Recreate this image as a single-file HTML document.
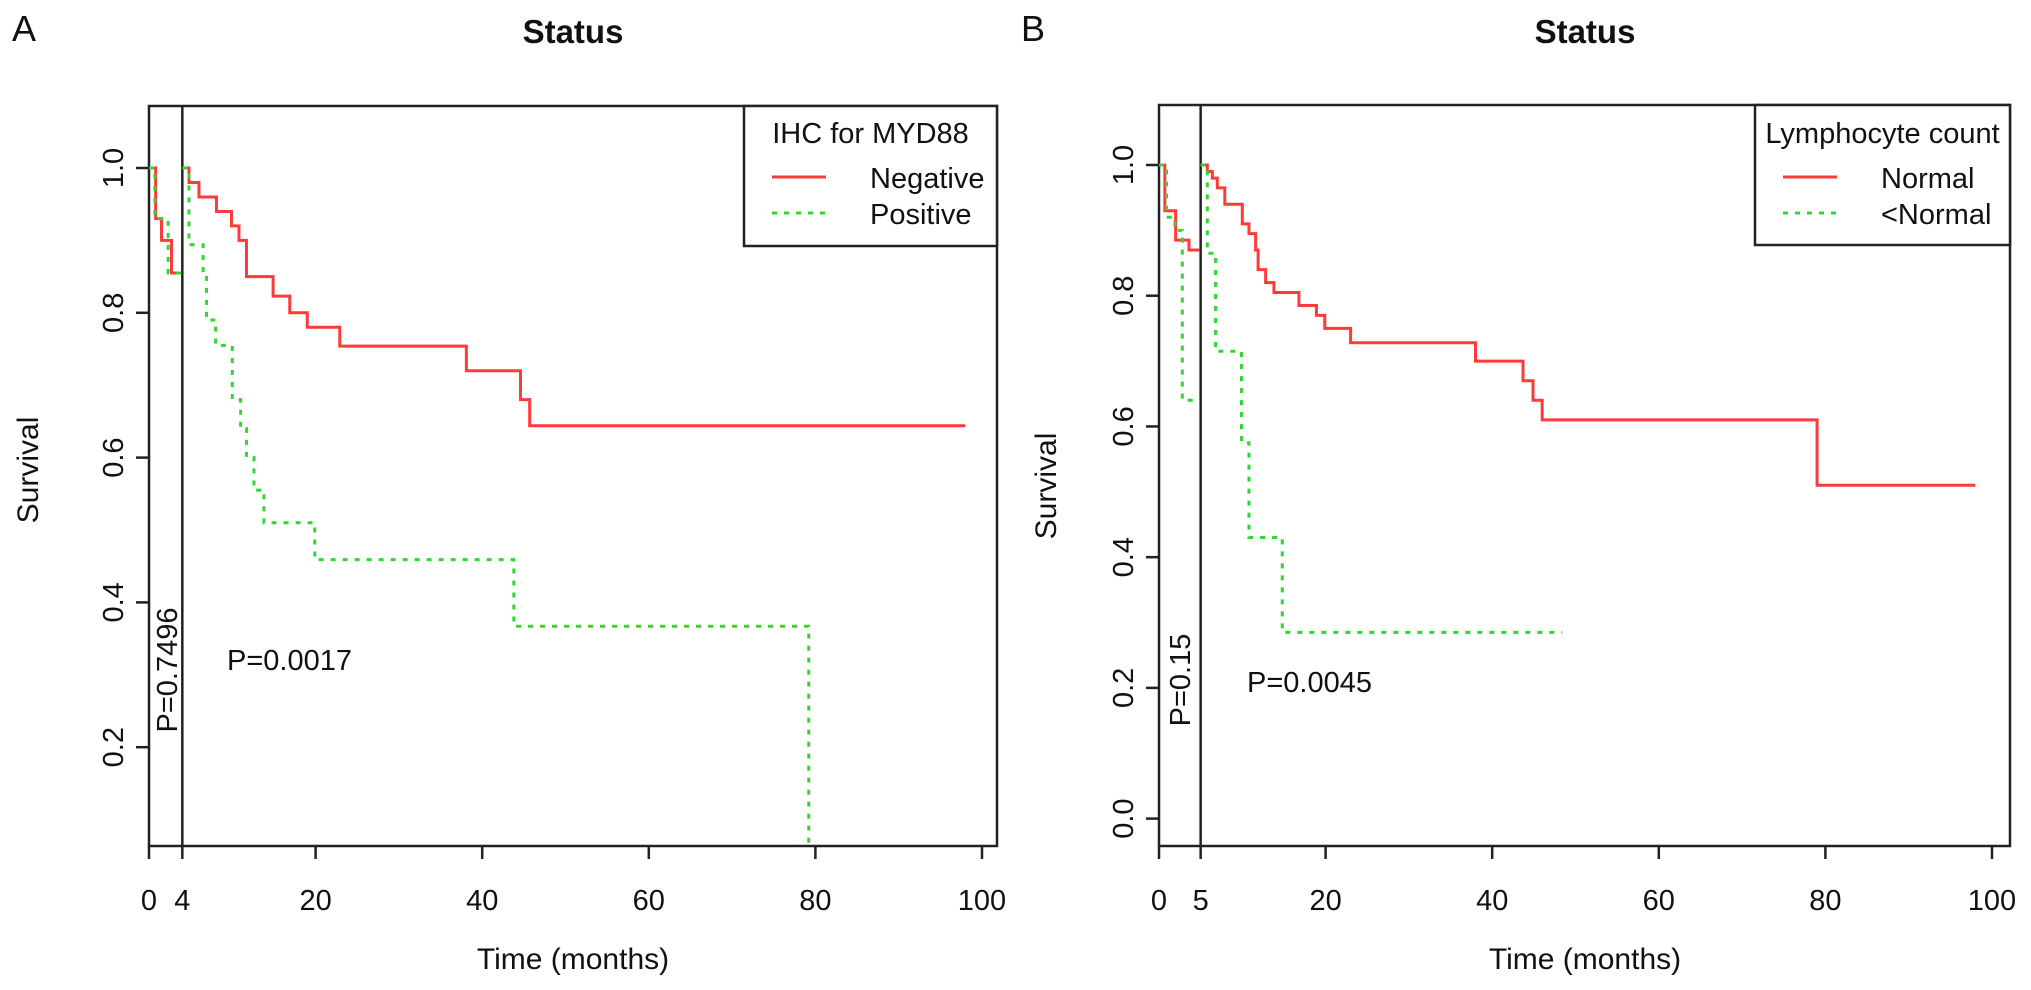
<!DOCTYPE html>
<html><head><meta charset="utf-8"><style>
html,body{margin:0;padding:0;background:#fff;}
svg{display:block;font-family:"Liberation Sans",Arial,sans-serif;}
</style></head><body>
<svg id="fig" width="2031" height="990" viewBox="0 0 2031 990"></svg>
<script>
// ---- Panel A data ----
const aRedEarlyT = [0, 0.8, 1.5, 2.7, 3.9];
const aRedEarlyS = [1.0, 0.93, 0.9, 0.855, 0.855];
const aGreenEarlyT = [0, 0.7, 2.3, 3.9];
const aGreenEarlyS = [1.0, 0.93, 0.855, 0.855];
const aRedT = [4, 4.8, 6.0, 8.1, 9.9, 10.8, 11.7, 14.9, 16.9, 19.0, 22.9, 38.1, 44.6, 45.7, 98];
const aRedS = [1.0, 0.98, 0.96, 0.94, 0.92, 0.9, 0.85, 0.823, 0.8, 0.78, 0.754, 0.72, 0.68, 0.644, 0.644];
const aGreenT = [4, 4.8, 6.5, 6.9, 8.0, 10.0, 11.0, 11.7, 12.6, 13.8, 19.9, 43.8, 79.2];
const aGreenS = [1.0, 0.894, 0.855, 0.79, 0.755, 0.68, 0.64, 0.6, 0.555, 0.51, 0.459, 0.367, 0.0];
const aYTicks = [0.2, 0.4, 0.6, 0.8, 1.0];
const aXTicks = [0, 4, 20, 40, 60, 80, 100];
// ---- Panel B data ----
const bRedEarlyT = [0, 0.7, 2.0, 3.6, 4.9];
const bRedEarlyS = [1.0, 0.93, 0.885, 0.87, 0.87];
const bGreenEarlyT = [0, 0.9, 1.9, 2.8, 4.2];
const bGreenEarlyS = [1.0, 0.92, 0.9, 0.64, 0.64];
const bRedT = [5, 5.8, 6.4, 7.0, 7.9, 10.0, 10.8, 11.6, 11.9, 12.8, 13.8, 16.8, 18.9, 19.9, 23.0, 38.0, 43.7, 44.9, 46.0, 79.0, 98];
const bRedS = [1.0, 0.99, 0.98, 0.965, 0.94, 0.91, 0.895, 0.87, 0.84, 0.82, 0.805, 0.785, 0.77, 0.75, 0.728, 0.70, 0.67, 0.64, 0.61, 0.51, 0.51];
const bGreenT = [5, 5.8, 6.8, 9.9, 10.8, 14.8, 48.4];
const bGreenS = [1.0, 0.865, 0.715, 0.575, 0.43, 0.285, 0.285];
const bYTicks = [0.0, 0.2, 0.4, 0.6, 0.8, 1.0];
const bXTicks = [0, 5, 20, 40, 60, 80, 100];

const NS = "http://www.w3.org/2000/svg";
const svg = document.getElementById('fig');
function mk(tag, attrs, parent, text){
  const e = document.createElementNS(NS, tag);
  for (const k in attrs) e.setAttribute(k, attrs[k]);
  if (text !== undefined) e.textContent = text;
  (parent || svg).appendChild(e);
  return e;
}
const RED = "#ff3a3a", GREEN = "#2fd82f";

function panel(cfg){
  const g = mk('g', {});
  
  
  const X = t => cfg.x0 + t * cfg.xs;
  const Y = s => cfg.y1 + (1 - s) * cfg.ys;
  const cid = cfg.name + '-clip';
  const defs = mk('defs', {}, g);
  const cp = mk('clipPath', {id: cid}, defs);
  mk('rect', {x: cfg.L, y: cfg.T, width: cfg.R - cfg.L, height: cfg.B - cfg.T}, cp);
  const box = mk('rect', {x: cfg.L, y: cfg.T, width: cfg.R - cfg.L, height: cfg.B - cfg.T, fill: 'none', stroke: '#222', 'stroke-width': 2.5}, g);
  
  
  const ti = mk('text', {x: cfg.cx, y: 43, 'text-anchor': 'middle', 'font-size': 33, 'font-weight': 'bold', fill: '#111'}, g, 'Status');
  
  
  const pl = mk('text', {x: cfg.letterX, y: 41, 'font-size': 36, fill: '#111'}, g, cfg.letter);
  
  
  cfg.yt.forEach(v => {
    const tk = mk('line', {x1: cfg.L - 13, x2: cfg.L, y1: Y(v), y2: Y(v), stroke: '#222', 'stroke-width': 2.5}, g);
    
    
    const lb = mk('text', {x: 0, y: 0, 'text-anchor': 'middle', 'font-size': 29, fill: '#111',
      transform: `translate(${cfg.L - 26},${Y(v)}) rotate(-90)`}, g, v.toFixed(1));
    
    
  });
  cfg.xt.forEach(v => {
    const tk = mk('line', {x1: X(v), x2: X(v), y1: cfg.B, y2: cfg.B + 13, stroke: '#222', 'stroke-width': 2.5}, g);
    
    
    const lb = mk('text', {x: X(v), y: cfg.B + 64, 'text-anchor': 'middle', 'font-size': 29, fill: '#111'}, g, String(v));
    
    
  });
  const xl = mk('text', {x: cfg.cx, y: 969, 'text-anchor': 'middle', 'font-size': 30, fill: '#111'}, g, 'Time  (months)');
  
  
  const yl = mk('text', {x: 0, y: 0, 'text-anchor': 'middle', 'font-size': 30, fill: '#111',
    transform: `translate(${cfg.ylx},${cfg.yly}) rotate(-90)`}, g, 'Survival');
  
  
  const vl = mk('line', {x1: X(cfg.land), x2: X(cfg.land), y1: cfg.T, y2: cfg.B, stroke: '#222', 'stroke-width': 2.5}, g);
  
  
  function step(T, S, color, dashed, name){
    let d = `M${X(T[0])},${Y(S[0])}`;
    for (let i = 1; i < T.length; i++) d += ` H${X(T[i])} V${Y(S[i])}`;
    const p = mk('path', {d: d, fill: 'none', stroke: color, 'stroke-width': 3, 'clip-path': `url(#${cid})`,
      'stroke-dasharray': dashed ? '5 7' : 'none'}, g);
    
    
  }
  step(cfg.reT, cfg.reS, RED, false, 'early-curve-red');
  step(cfg.geT, cfg.geS, GREEN, true, 'early-curve-green');
  step(cfg.rT, cfg.rS, RED, false, 'late-curve-red');
  step(cfg.gT, cfg.gS, GREEN, true, 'late-curve-green');
  const p1 = mk('text', {x: cfg.pX, y: cfg.pY + 10, 'font-size': 29, fill: '#111'}, g, cfg.pText);
  
  
  const p2 = mk('text', {x: 0, y: 0, 'text-anchor': 'middle', 'font-size': 29, fill: '#111',
    transform: `translate(${cfg.p2X},${cfg.p2Y}) rotate(-90)`}, g, cfg.p2Text);
  
  
  const lg = mk('g', {}, g);
  
  
  mk('rect', {x: cfg.lgL, y: cfg.T, width: cfg.R - cfg.lgL, height: 140, fill: '#fff', stroke: '#222', 'stroke-width': 2.5}, lg);
  mk('text', {x: (cfg.lgL + cfg.R) / 2, y: 143, 'text-anchor': 'middle', 'font-size': 29, fill: '#111'}, lg, cfg.lgTitle);
  const e1 = mk('g', {}, lg);
  
  
  mk('line', {x1: cfg.lgL + 28, x2: cfg.lgL + 82, y1: 177, y2: 177, stroke: RED, 'stroke-width': 3}, e1);
  mk('text', {x: cfg.lgL + 126, y: 188, 'font-size': 29, fill: '#111'}, e1, cfg.lg1);
  const e2 = mk('g', {}, lg);
  
  
  mk('line', {x1: cfg.lgL + 28, x2: cfg.lgL + 82, y1: 213, y2: 213, stroke: GREEN, 'stroke-width': 3, 'stroke-dasharray': '5 7'}, e2);
  mk('text', {x: cfg.lgL + 126, y: 224, 'font-size': 29, fill: '#111'}, e2, cfg.lg2);
}

panel({name: 'panel-a', letter: 'A', letterX: 12, L: 149, R: 997, T: 106, B: 846,
  x0: 149, xs: 8.33, y1: 168, ys: 724, cx: 573, ylx: 38, yly: 470,
  yt: aYTicks, xt: aXTicks, land: 4,
  reT: aRedEarlyT, reS: aRedEarlyS, geT: aGreenEarlyT, geS: aGreenEarlyS,
  rT: aRedT, rS: aRedS, gT: aGreenT, gS: aGreenS,
  pX: 227, pY: 660, pText: 'P=0.0017', p2X: 177, p2Y: 670, p2Text: 'P=0.7496',
  lgL: 744, lgTitle: 'IHC for MYD88', lg1: 'Negative', lg2: 'Positive'});

panel({name: 'panel-b', letter: 'B', letterX: 1021, L: 1159, R: 2010, T: 105, B: 846,
  x0: 1159, xs: 8.33, y1: 165, ys: 653.6, cx: 1585, ylx: 1056, yly: 486,
  yt: bYTicks, xt: bXTicks, land: 5,
  reT: bRedEarlyT, reS: bRedEarlyS, geT: bGreenEarlyT, geS: bGreenEarlyS,
  rT: bRedT, rS: bRedS, gT: bGreenT, gS: bGreenS,
  pX: 1247, pY: 682, pText: 'P=0.0045', p2X: 1190, p2Y: 680, p2Text: 'P=0.15',
  lgL: 1755, lgTitle: 'Lymphocyte count', lg1: 'Normal', lg2: '<Normal'});
</script>
</body></html>
